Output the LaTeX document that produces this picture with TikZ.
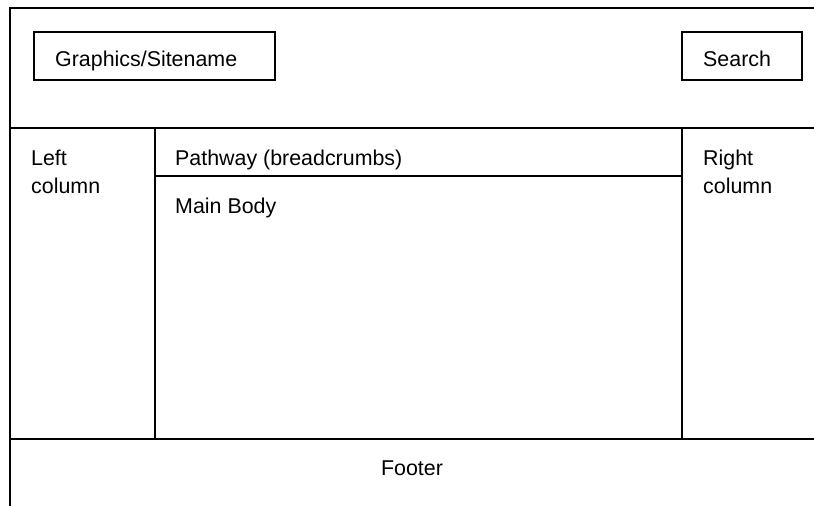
\documentclass[tikz,border=0pt]{standalone}
\usepackage{fontspec}
\setmainfont{Liberation Sans}

\tikzset{
  frame/.style={line width=1.5pt},
  label/.style={anchor=base west, inner sep=0pt, font=\fontsize{21.4}{28}\selectfont, align=left},
  sitebox/.style={draw, line width=1.5pt}
}

\begin{document}
\begin{tikzpicture}[x=1pt, y=-1pt]
\useasboundingbox (0,0) rectangle (814,506);

% outer frame, cut off at right and bottom
\draw[frame] (10,506) -- (10,8) -- (814,8);
\draw[frame] (10,128) -- (814,128);
\draw[frame] (10,439) -- (814,439);
\draw[frame] (155,128) -- (155,439);
\draw[frame] (682,128) -- (682,439);
\draw[frame] (155,176) -- (682,176);

% header boxes
\draw[sitebox] (34,32) rectangle (275,80);
\draw[sitebox] (682,32) rectangle (802,80);

\node[label] (site) at (55,66) {Graphics/Sitename};
\node[label] (search) at (703,66) {Search};

% base of a two-line node sits on its last line
\node[label] (left) at (31,193) {Left\\column};
\node[label] (right) at (703,193) {Right\\column};
\node[label] (path) at (175,165) {Pathway (breadcrumbs)};
\node[label] (body) at (175,213) {Main Body};

\node[label, anchor=base] (footer) at (412,475) {Footer};
\end{tikzpicture}
\end{document}
